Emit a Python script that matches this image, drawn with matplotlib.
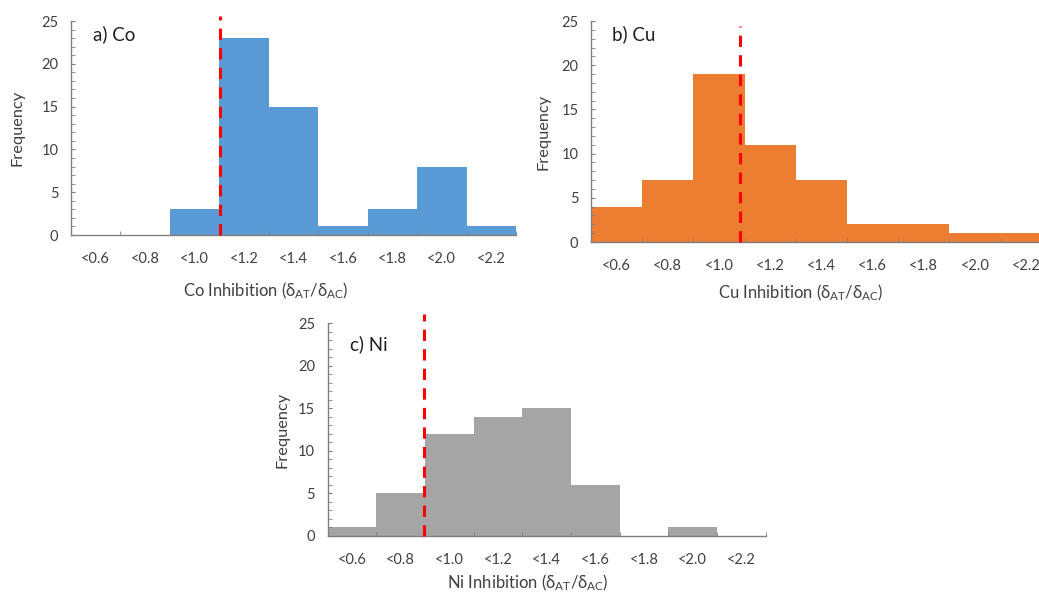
import matplotlib.pyplot as plt

plt.rcParams['font.family'] = ['Lato', 'DejaVu Sans']
plt.rcParams['mathtext.fontset'] = 'custom'
plt.rcParams['mathtext.rm'] = 'Lato'
plt.rcParams['mathtext.it'] = 'Lato'

bins = ['<0.6', '<0.8', '<1.0', '<1.2', '<1.4', '<1.6', '<1.8', '<2.0', '<2.2']
co_freq = [0, 0, 3, 23, 15, 1, 3, 8, 1]
cu_freq = [4, 7, 19, 11, 7, 2, 2, 1, 1]
ni_freq = [1, 5, 12, 14, 15, 6, 0, 1, 0]

# threshold lines, in bin units (0 = first bin centre)
co_cut = 2.52
cu_cut = 2.41
ni_cut = 1.47

ink = '#404040'

def panel(fig, rect, freq, color, title, metal, cut, cut_top, xlab_x, xlab_y, title_xy, ypad):
    ax = fig.add_axes(rect)
    x = list(range(len(bins)))
    ax.bar(x, freq, width=1.0, color=color, linewidth=0)
    ax.set_xlim(-0.5, len(bins) - 0.5)
    ax.set_ylim(0, 25)
    ax.set_yticks(range(0, 26, 5))
    ax.set_yticks(range(0, 26), minor=True)
    ax.set_xticks(x)
    ax.set_xticklabels(bins)
    ax.set_xticks([i + 0.5 for i in x], minor=True)
    ax.tick_params(axis='x', which='major', length=0, pad=12, labelsize=10.5, labelcolor=ink)
    ax.tick_params(axis='x', which='minor', length=3, direction='in', color='#7f7f7f')
    ax.tick_params(axis='y', which='both', length=3, direction='in', color='#7f7f7f',
                   labelsize=10.5, labelcolor=ink, pad=9)
    for s in ['top', 'right']:
        ax.spines[s].set_visible(False)
    for s in ['left', 'bottom']:
        ax.spines[s].set_color('#7f7f7f')
        ax.spines[s].set_linewidth(1.0)
    ax.plot([cut, cut], [0, cut_top], color='#ff0000', lw=2.2,
            linestyle=(0, (3.7, 2.7)), clip_on=False, zorder=5)
    ax.set_ylabel('Frequency', fontsize=11.8, color=ink, labelpad=ypad)
    ax.text(xlab_x, xlab_y, metal + r' Inhibition ($\delta_{\mathrm{AT}}/\delta_{\mathrm{AC}}$)',
            transform=ax.transAxes, ha='center', va='center', fontsize=12, color=ink)
    ax.text(title_xy[0], title_xy[1], title, transform=ax.transAxes,
            ha='left', va='center', fontsize=13.5, color='#202020')
    return ax

fig = plt.figure(figsize=(10.39, 5.92), dpi=100)

panel(fig, [0.0683, 0.6030, 0.4283, 0.3615], co_freq, '#5b9bd5', 'a) Co', 'Co',
      co_cut, 25.6, 0.438, -0.26, (0.05, 0.94), 12)
panel(fig, [0.5688, 0.5912, 0.4435, 0.3733], cu_freq, '#ed7d31', 'b) Cu', 'Cu',
      cu_cut, 24.4, 0.456, -0.23, (0.045, 0.94), 7.5)
panel(fig, [0.3154, 0.0946, 0.4216, 0.3593], ni_freq, '#a5a5a5', 'c) Ni', 'Ni',
      ni_cut, 26.1, 0.457, -0.22, (0.05, 0.9), 6)

fig.savefig('out.png', dpi=100)
